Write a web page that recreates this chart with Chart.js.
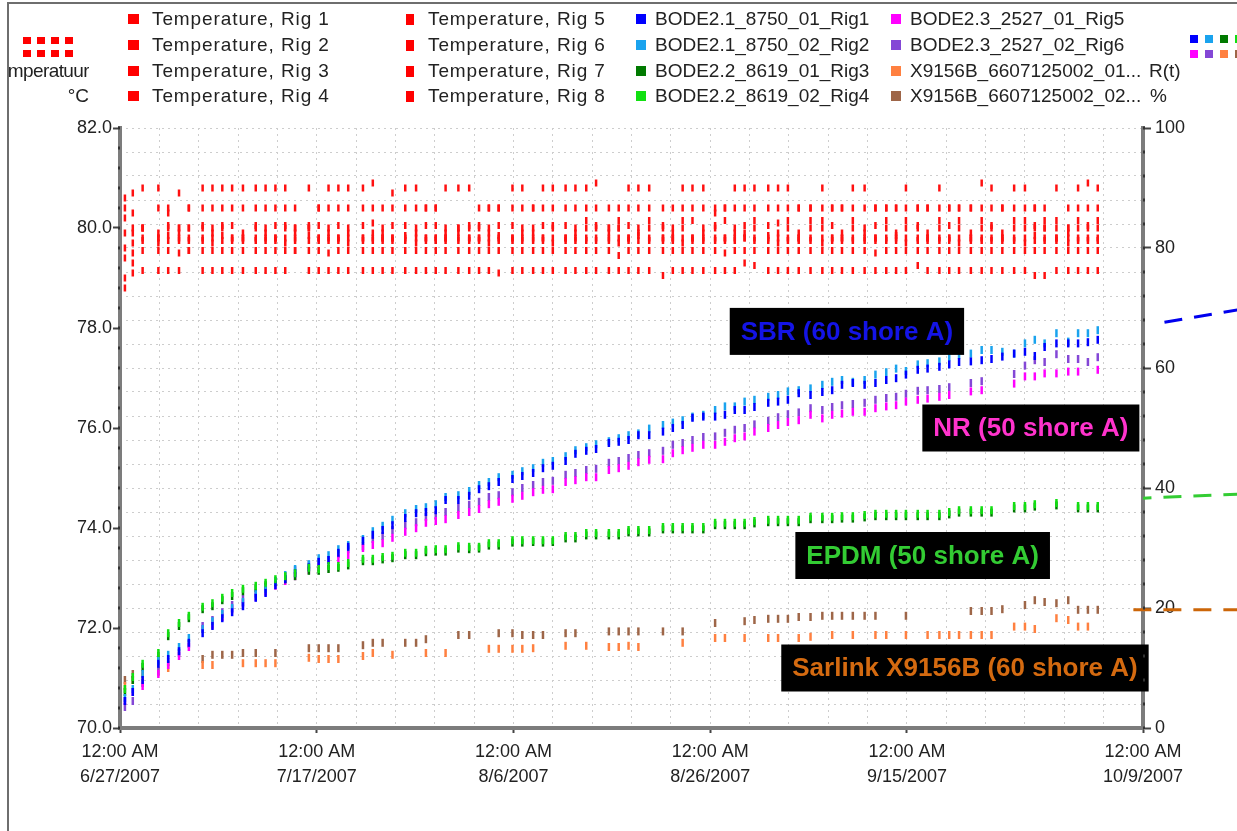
<!DOCTYPE html>
<html>
<head>
<meta charset="utf-8">
<script src="https://cdn.jsdelivr.net/npm/chart.js@4.4.1/dist/chart.umd.min.js"></script>
<style>
html, body { margin: 0; padding: 0; background: #fff; }
#wrap { position: relative; width: 1237px; height: 831px; overflow: hidden; font-family: "Liberation Sans", Arial, sans-serif; }
canvas { position: absolute; left: 0; top: 0; }
#frame { position: absolute; left: 7px; top: 2px; right: -10px; bottom: -10px; border-top: 2px solid #6e6e6e; border-left: 2px solid #6e6e6e; }
.lg { position: absolute; font-size: 19px; line-height: 22px; color: #222; white-space: nowrap; }
.sw { position: absolute; }
</style>
</head>
<body>
<div id="wrap">
  <canvas id="chart" width="1237" height="831"></canvas>
  <div id="frame"></div>
  <div id="legend"></div>
</div>
<script>
// sample times, days after 6/27/2007 00:00
const days = [0.5, 1.3,
  2.3, 3.9, 4.9, 6.0, 7.0, 8.4, 9.4, 10.4, 11.4, 12.5,
  13.8, 14.8, 15.8, 16.8, 17.8, 19.2, 20.2, 21.2, 22.2, 23.2,
  24.7, 25.7, 26.7, 27.7, 29.0, 30.1, 31.1, 32.1, 33.1, 34.4,
  35.5, 36.5, 37.5, 38.5, 39.9, 40.9, 42.0, 43.0, 44.0, 45.3,
  46.3, 47.4, 48.4, 49.7, 50.7, 51.7, 52.7, 53.8, 55.2, 56.2,
  57.2, 58.2, 59.3, 60.5, 61.5, 62.5, 63.5, 64.5, 65.9, 66.9,
  67.9, 69.0, 70.2, 71.4, 72.4, 73.4, 74.5, 75.7, 76.8, 77.9,
  78.9, 79.9, 81.1, 82.1, 83.3, 84.3, 85.3, 86.5, 87.6, 88.6,
  89.7, 90.9, 92.0, 93.0, 94.0, 95.2, 96.4, 97.4, 98.4, 99.4];

// temperature per rig, °C
const tempRig1 = [80.6, 80.7,
  80.8, 80.8, 80.4, 80.7, 80.4, 80.8, 80.8, 80.8, 80.8, 80.8,
  80.8, 80.8, 80.8, 80.8, 80.4, 80.8, 80.4, 80.8, 80.8, 80.8,
  80.8, 80.9, 80.4, 80.7, 80.8, 80.8, 80.4, 80.4, 80.8, 80.8,
  80.8, 80.4, 80.4, 80.4, 80.8, 80.8, 80.4, 80.8, 80.8, 80.8,
  80.8, 80.8, 80.9, 80.4, 80.4, 80.8, 80.8, 80.8, 80.4, 80.4,
  80.8, 80.8, 80.8, 80.4, 80.4, 80.8, 80.8, 80.8, 80.8, 80.8,
  80.8, 80.4, 80.4, 80.8, 80.4, 80.4, 80.8, 80.8, 80.4, 80.4,
  80.4, 80.8, 80.4, 80.4, 80.8, 80.4, 80.4, 80.4, 80.9, 80.8,
  80.4, 80.8, 80.8, 80.4, 80.4, 80.8, 80.4, 80.8, 80.9, 80.8];
const tempRig2 = [80.2, 80.3,
  80.0, 80.4, 80.3, 80.0, 80.4, 80.4, 80.4, 80.4, 80.4, 80.4,
  80.4, 80.4, 80.4, 80.4, 80.0, 80.0, 80.4, 80.4, 80.4, 80.4,
  80.4, 80.4, 79.8, 80.4, 80.4, 80.4, 80.4, 80.4, 80.0, 80.0,
  80.0, 80.0, 80.4, 80.4, 80.4, 80.4, 80.4, 80.4, 80.4, 80.4,
  80.4, 80.4, 80.4, 80.0, 80.0, 80.4, 80.4, 80.4, 79.8, 80.0,
  80.4, 80.4, 80.4, 80.3, 80.4, 80.4, 80.4, 80.4, 80.4, 80.4,
  80.4, 80.4, 80.4, 80.4, 80.4, 80.4, 80.4, 80.4, 80.4, 80.4,
  80.4, 80.4, 80.4, 80.4, 80.4, 80.4, 80.4, 80.4, 80.4, 80.4,
  80.4, 80.4, 80.4, 80.4, 80.0, 80.0, 80.0, 80.4, 80.4, 80.4];
const tempRig3 = [79.9, 80.0,
  80.0, 79.8, 80.0, 80.0, 80.0, 80.0, 80.0, 80.0, 79.8, 79.8,
  80.0, 80.0, 79.8, 80.0, 80.0, 80.0, 79.8, 80.0, 79.8, 80.0,
  79.8, 80.1, 80.0, 79.8, 79.8, 80.0, 79.8, 79.8, 79.8, 80.0,
  79.8, 79.8, 80.0, 79.8, 79.8, 80.0, 80.0, 79.8, 80.0, 79.8,
  80.0, 80.0, 80.0, 80.0, 80.0, 79.8, 80.0, 80.0, 80.0, 79.8,
  80.0, 79.8, 80.0, 80.0, 79.8, 80.0, 79.8, 80.0, 79.8, 80.1,
  80.0, 79.8, 80.0, 80.0, 79.8, 79.8, 80.0, 80.0, 79.8, 80.0,
  79.8, 80.0, 80.0, 79.8, 80.0, 79.8, 80.0, 79.8, 80.0, 80.0,
  79.8, 80.0, 80.0, 80.0, 80.0, 79.8, 80.0, 80.0, 80.0, 80.0];
const tempRig4 = [79.6, 79.7,
  79.8, 79.8, 79.85, 79.8, 79.8, 79.8, 79.8, 79.85, 79.8, 79.8,
  79.8, 79.8, 79.8, 79.8, 79.8, 79.85, 79.8, 79.8, 79.8, 79.8,
  79.8, 79.8, 79.8, 79.8, 79.85, 79.8, 79.8, 79.8, 79.8, 79.8,
  79.8, 79.8, 79.8, 79.85, 79.8, 79.8, 79.8, 79.8, 79.8, 79.8,
  79.8, 79.8, 79.8, 79.8, 79.8, 79.8, 79.85, 79.8, 79.8, 79.8,
  79.8, 79.8, 79.8, 79.8, 79.8, 79.8, 79.8, 79.8, 79.85, 79.8,
  79.8, 79.8, 79.8, 79.8, 79.8, 79.8, 79.8, 79.8, 79.8, 79.8,
  79.85, 79.8, 79.8, 79.8, 79.8, 79.8, 79.8, 79.8, 79.8, 79.8,
  79.8, 79.8, 79.8, 79.85, 79.8, 79.8, 79.8, 79.8, 79.8, 79.8];
const tempRig5 = [79.4, 79.5,
  79.75, 79.7, 79.75, 79.75, 79.75, 79.75, 79.7, 79.75, 79.75, 79.75,
  79.75, 79.75, 79.75, 79.7, 79.75, 79.75, 79.75, 79.75, 79.75, 79.7,
  79.75, 79.75, 79.75, 79.75, 79.75, 79.7, 79.75, 79.75, 79.75, 79.75,
  79.75, 79.75, 79.7, 79.75, 79.75, 79.75, 79.75, 79.75, 79.7, 79.75,
  79.75, 79.75, 79.75, 79.75, 79.7, 79.75, 79.75, 79.75, 79.75, 79.75,
  79.7, 79.75, 79.75, 79.75, 79.75, 79.75, 79.9, 79.75, 79.75, 79.7,
  79.75, 79.75, 79.75, 79.7, 79.75, 79.75, 79.75, 79.75, 79.75, 79.75,
  79.75, 79.7, 79.75, 79.75, 79.75, 79.75, 79.7, 79.75, 79.75, 79.75,
  79.75, 79.75, 79.7, 79.75, 79.75, 79.75, 79.7, 79.75, 79.75, 79.75];
const tempRig6 = [79.0, 79.3,
  79.55, 79.55, 79.55, 79.5, 79.55, 79.55, 79.55, 79.55, 79.55, 79.55,
  79.55, 79.55, 79.55, 79.55, 79.55, 79.55, 79.55, 79.5, 79.55, 79.55,
  79.55, 79.55, 79.55, 79.55, 79.55, 79.55, 79.55, 79.55, 79.55, 79.55,
  79.55, 79.55, 79.55, 79.55, 79.55, 79.55, 79.55, 79.55, 79.55, 79.55,
  79.55, 79.55, 79.55, 79.55, 79.45, 79.55, 79.55, 79.55, 79.55, 79.55,
  79.55, 79.55, 79.55, 79.55, 79.5, 79.55, 79.55, 79.55, 79.55, 79.55,
  79.55, 79.55, 79.55, 79.55, 79.55, 79.55, 79.55, 79.55, 79.5, 79.55,
  79.55, 79.55, 79.55, 79.55, 79.55, 79.55, 79.55, 79.55, 79.55, 79.55,
  79.55, 79.55, 79.55, 79.55, 79.55, 79.55, 79.55, 79.55, 79.55, 79.55];
const tempRig7 = [78.8, 79.1,
  79.15, 79.15, 79.15, 79.15, 79.55, 79.15, 79.15, 79.15, 79.15, 79.15,
  79.15, 79.15, 79.15, 79.15, 79.55, 79.15, 79.15, 79.15, 79.15, 79.15,
  79.15, 79.15, 79.15, 79.15, 79.15, 79.15, 79.15, 79.15, 79.15, 79.15,
  79.15, 79.15, 79.15, 79.1, 79.15, 79.15, 79.15, 79.15, 79.15, 79.15,
  79.15, 79.15, 79.15, 79.15, 79.15, 79.15, 79.15, 79.15, 79.05, 79.15,
  79.15, 79.15, 79.15, 79.15, 79.15, 79.15, 79.3, 79.25, 79.15, 79.15,
  79.15, 79.15, 79.15, 79.15, 79.15, 79.15, 79.15, 79.15, 79.15, 79.15,
  79.15, 79.15, 79.25, 79.15, 79.15, 79.15, 79.15, 79.15, 79.15, 79.15,
  79.15, 79.15, 79.15, 79.05, 79.05, 79.15, 79.15, 79.15, 79.15, 79.15];
const tempRig8 = [80.4, 79.9,
  80.0, 79.9, 80.05, 79.9, 80.0, 80.05, 79.9, 80.05, 80.05, 79.9,
  80.05, 79.9, 80.05, 80.05, 79.9, 80.05, 80.05, 79.9, 80.05, 79.9,
  80.05, 79.9, 79.9, 80.05, 80.05, 79.9, 80.05, 80.05, 79.9, 79.9,
  80.05, 80.05, 79.9, 80.05, 80.05, 79.9, 79.9, 80.05, 80.05, 80.05,
  79.9, 80.15, 80.05, 79.9, 80.15, 80.05, 79.9, 80.15, 80.05, 79.9,
  80.15, 80.15, 79.9, 80.05, 80.15, 79.9, 80.05, 80.15, 80.05, 79.9,
  80.15, 79.9, 80.15, 80.15, 80.05, 79.9, 80.15, 79.9, 80.05, 80.15,
  79.9, 80.15, 80.05, 79.9, 80.15, 80.05, 80.15, 79.9, 80.15, 80.05,
  79.9, 80.15, 80.15, 80.05, 80.15, 80.15, 79.9, 80.15, 80.05, 80.15];

// R(t) per sample, %
const rSbr1 = [4.5, 6,
  8, 10.7, 11.5, 12.8, 14.2, 15.8, 17, 18.3, 19.3, 20.3,
  21.7, 22.5, 23.8, 24.8, 25.8, 26.8, 27.7, 28, 29.2, 30.2,
  31.2, 32.2, 33, 33.8, 35, 35.8, 36, 36.3, 38, 38,
  38.7, 39.8, 40.3, 41, 41.5, 42, 42.5, 43.3, 43.7, 44.5,
  45.7, 46.2, 46.5, 47.5, 47.7, 48, 48.8, 48.8, 49.4, 50,
  50.5, 51.7, 51.9, 51.9, 52.2, 53, 53, 53.5, 54.2, 54.4,
  54.7, 55.8, 55.5, 56, 56.3, 57.2, 57.5, 57.2, 57.5, 58,
  58.3, 58.9, 59.7, 59.9, 60.2, 60.6, 61, 61.1, 61.3, 61.5,
  61.9, 62.4, 62.7, 62, 63.5, 64.1, 64.1, 64.1, 64.3, 64.7];
const rSbr2 = [5, 6.5,
  9, 11.2, 12.2, 13.5, 15, 16.5, 17.8, 19, 20, 21,
  22.3, 23.2, 24.5, 25.5, 26.5, 27.3, 28.3, 28.8, 29.8, 30.5,
  31.5, 32.8, 33.7, 34.7, 35.8, 36.5, 36.8, 37.3, 38.5, 38.8,
  39.5, 40.5, 41, 41.8, 42.2, 42.8, 43.3, 44.2, 44.5, 45.3,
  46.3, 46.8, 47.3, 47.8, 48.3, 48.8, 49.1, 49.9, 50.5, 50.9,
  51.3, 51.9, 52.2, 53, 53.6, 53.6, 54.4, 54.7, 55.2, 55.5,
  56.1, 56.3, 56.6, 57.2, 57.7, 58, 57.7, 58, 58.9, 59.3,
  59.9, 59.5, 60.6, 60.8, 61.1, 61.8, 62.2, 62.4, 63, 63,
  62.7, 62.4, 64.1, 64.7, 64.1, 65.8, 64.4, 65.8, 65.8, 66.3];
const rEpdm1 = [6, 8,
  10.2, 12, 15.3, 17, 18.3, 19.8, 20.3, 21.3, 22, 22.8,
  23.3, 23.8, 24.3, 24.8, 25.3, 26.2, 26.2, 26.5, 26.7, 27.1,
  27.8, 27.8, 28.1, 28.3, 28.8, 28.8, 29.3, 29.4, 29.4, 29.9,
  29.8, 29.9, 30.4, 30.4, 30.9, 30.9, 31, 30.9, 31, 31.6,
  31.6, 32.1, 32.1, 32.1, 32.1, 32.6, 32.6, 32.6, 33.1, 33.1,
  33.1, 33.1, 33.1, 33.8, 33.8, 33.8, 33.8, 34.1, 34.3, 34.3,
  34.3, 34.3, 34.8, 34.8, 34.8, 34.9, 34.9, 35.1, 35.3, 35.3,
  35.3, 35.3, 35.3, 35.3, 35.3, 35.6, 35.9, 35.9, 35.9, 35.9,
  null, 36.6, 36.6, 36.9, null, 37.1, null, 36.6, 36.6, 36.6];
const rEpdm2 = [6.5, 8.5,
  10.7, 12.5, 15.8, 17.5, 18.7, 20.2, 20.8, 21.7, 22.5, 23.2,
  23.7, 24.2, 24.8, 25.3, 25.8, 26.7, 26.5, 27, 27, 27.5,
  28.2, 28.2, 28.5, 28.7, 29.2, 29.2, 29.7, 29.8, 29.8, 30.3,
  30.2, 30.2, 30.8, 30.8, 31.3, 31.3, 31.3, 31.3, 31.3, 32,
  32, 32.5, 32.5, 32.5, 32.5, 33, 33, 33, 33.5, 33.5,
  33.5, 33.5, 33.5, 34.2, 34.2, 34.2, 34.2, 34.5, 34.7, 34.7,
  34.7, 34.7, 35.2, 35.2, 35.2, 35.3, 35.3, 35.5, 35.7, 35.7,
  35.7, 35.7, 35.7, 35.7, 35.7, 36, 36.3, 36.3, 36.3, 36.3,
  null, 37, 37, 37.3, null, 37.5, null, 37, 37, 37];
const rNr1 = [4.5, 6,
  7, 9, 10.5, 12, 13.5, 16.5, 17.2, 18.5, 19.8, 20.8,
  21.8, 22.7, 23.7, 24.5, 25.3, 26.3, 26.8, 27.2, 28.2, 28.8,
  30, 30.5, 30.8, 31.7, 32.7, 33.3, 34.2, 34.5, 34.8, 35.5,
  36, 36.5, 37.3, 37.7, 38.2, 38.7, 39.3, 39.7, 39.8, 41,
  41.3, 41.8, 41.8, 43, 43.3, 43.7, 44.3, 44.7, 44.8, 45.8,
  46.3, 46.7, 47.2, 47.2, 47.7, 48.3, 48.6, 49.4, 50, 50.5,
  51, 51.3, 52.2, 51.6, 52.2, 52.4, 52.7, 52.7, 53.3, 53.6,
  53.8, 54.4, 54.7, 54.9, 55.2, 55.5, null, 56.1, 56.3, null,
  null, 57.4, 58.6, 58.6, 59.1, 59.1, 59.4, 59.4, null, 59.7];
const rNr2 = [3.5, 4.5,
  7.5, 9.5, 11, 12.5, 14, 17, 18, 19.3, 20.5, 21.5,
  22.5, 23.5, 24.5, 25.3, 26.3, 27.2, 27.7, 28, 29, 29.8,
  30.3, 31.5, 32, 33, 33.8, 34.3, 35.2, 35.5, 36, 36.7,
  37.2, 37.7, 38.5, 38.8, 39.3, 40, 40.5, 41, 41.2, 42.2,
  42.5, 43, 43.2, 44.2, 44.5, 45, 45.5, 45.8, 46.2, 47.2,
  47.5, 48, 48.5, 48.6, 49.2, 49.7, 50, 50.6, 51.2, 51.8,
  52.3, 52.6, 53.3, 53, 53.5, 53.8, 54, 54.2, 54.7, 55,
  55.2, 55.7, 56.2, 56.3, 56.5, 56.8, null, 57.5, 57.8, null,
  null, 59, 60.4, 61.3, 61, 62.3, 61.5, 61.5, 61, 61.8];
const rSarlink1 = [7, 8,
  8.5, 9.3, 10, null, null, 10.5, 10.5, null, null, 10.8,
  10.8, 10.8, 10.8, null, null, 11.7, 11.5, 11.5, 11.5, null,
  12, 12.5, null, 12.2, null, null, 12.5, null, 12.5, null,
  null, null, 13.2, 13.2, 13.2, 13.2, 13.3, null, null, 13.7,
  null, 13.7, null, 13.5, 13.5, 13.7, 13.5, null, null, null,
  14.2, null, null, 15, 15, null, 15, null, 15, 15,
  null, 15, 15.2, null, 15.5, null, 15.5, null, 15.5, 15.5,
  null, 15.5, null, 15.5, 15.5, 15.5, 15.5, 15.5, 15.5, 15.5,
  null, 16.9, 16.9, 16.5, null, 18.3, 18, 16.9, 16.9, null];
const rSarlink2 = [8, 9,
  9, 10.5, null, null, null, 11.5, 12.2, 12.2, 12.2, 12.5,
  12.5, null, 12.5, null, null, 13.3, 13.3, 13.3, 13.3, null,
  13.8, 14.2, 14.2, null, 14.2, 14.2, 14.8, null, null, 15.5,
  15.5, null, null, 15.8, 15.8, 15.5, 15.5, 15.5, null, 15.8,
  15.8, null, null, 16.1, 16.1, 16.1, 16.1, null, 16.1, null,
  16.1, null, null, 17.5, null, null, 17.8, 18, 18.2, 18.2,
  18.2, 18.5, 18.5, 18.7, 18.7, 18.7, 18.7, 18.7, 18.7, null,
  null, 18.7, null, null, null, null, null, 19.5, 19.5, 19.5,
  19.8, null, 20.5, 21.3, 21, 20.8, 21.3, 19.7, 19.7, 19.7];

// dashed trend marks running past the right axis
const trendDays = [114, 105.7];
const trendDaysEpdm = [114, 104];
const trendDaysSarlink = [114, 102.5];
const sbrTrend = [69.8, 67.5];
const epdmTrend = [39.0, 38.3];
const sarlinkTrend = [19.7, 19.7];

const xTickDays = [0, 20, 40, 60, 80, 104];
const xTickLabels = [
  ['12:00 AM', '6/27/2007'], ['12:00 AM', '7/17/2007'], ['12:00 AM', '8/6/2007'],
  ['12:00 AM', '8/26/2007'], ['12:00 AM', '9/15/2007'], ['12:00 AM', '10/9/2007']
];

const tempLabels = ['Temperature, Rig 1', 'Temperature, Rig 2', 'Temperature, Rig 3', 'Temperature, Rig 4',
  'Temperature, Rig 5', 'Temperature, Rig 6', 'Temperature, Rig 7', 'Temperature, Rig 8'];
const rLabels = ['BODE2.1_8750_01_Rig1', 'BODE2.1_8750_02_Rig2', 'BODE2.2_8619_01_Rig3', 'BODE2.2_8619_02_Rig4',
  'BODE2.3_2527_01_Rig5', 'BODE2.3_2527_02_Rig6', 'X9156B_6607125002_01...', 'X9156B_6607125002_02...'];
const rColors = ['#0000ff', '#1aa3ee', '#007a00', '#11e011', '#ff00ff', '#8447d6', '#ff8040', '#9e6648'];
// lower order is drawn on top
const rOrder = [2, 3, 4, 1, 5, 6, 7, 8];

const materials = [
  { text: 'SBR (60 shore A)', color: '#1414e6', day: 73.9, pct: 66.1 },
  { text: 'NR (50 shore A)', color: '#ff33cc', day: 92.6, pct: 50 },
  { text: 'EPDM (50 shore A)', color: '#33cc33', day: 81.6, pct: 28.75 },
  { text: 'Sarlink X9156B (60 shore A)', color: '#d46a10', day: 85.9, pct: 10 }
];

const toPoints = vals => days.map((d, i) => ({ x: d, y: vals[i] })).filter(p => p.y !== null);

const temps = [tempRig1, tempRig2, tempRig3, tempRig4, tempRig5, tempRig6, tempRig7, tempRig8];
const rSeries = [rSbr1, rSbr2, rEpdm1, rEpdm2, rNr1, rNr2, rSarlink1, rSarlink2];

const datasets = [];
temps.forEach((t, i) => {
  datasets.push({
    label: tempLabels[i], data: toPoints(t), yAxisID: 'yT', order: 0,
    pointStyle: 'line', rotation: 90, pointRadius: 3.5, borderWidth: 2.5,
    borderColor: '#ff1010', backgroundColor: '#ff1010'
  });
});
rSeries.forEach((r, i) => {
  datasets.push({
    label: rLabels[i], data: toPoints(r), yAxisID: 'yR', order: rOrder[i],
    pointStyle: 'line', rotation: 90, pointRadius: 4, borderWidth: 2.5,
    borderColor: rColors[i], backgroundColor: rColors[i]
  });
});
const trendStyle = { type: 'line', yAxisID: 'yR', order: 0, pointRadius: 0, borderWidth: 3, borderDash: [18, 12], clip: false, fill: false };
datasets.push(Object.assign({ label: 'SBR trend', borderColor: '#0000ee',
  data: trendDays.map((d, i) => ({ x: d, y: sbrTrend[i] })) }, trendStyle));
datasets.push(Object.assign({ label: 'EPDM trend', borderColor: '#33cc33',
  data: trendDaysEpdm.map((d, i) => ({ x: d, y: epdmTrend[i] })) }, trendStyle));
datasets.push(Object.assign({ label: 'Sarlink trend', borderColor: '#cc6608',
  data: trendDaysSarlink.map((d, i) => ({ x: d, y: sarlinkTrend[i] })) }, trendStyle));

const materialBoxes = {
  id: 'materialBoxes',
  afterDatasetsDraw(chart) {
    const { ctx, scales } = chart;
    ctx.save();
    ctx.font = 'bold 26px "Liberation Sans", Arial, sans-serif';
    ctx.textAlign = 'center';
    ctx.textBaseline = 'middle';
    materials.forEach(m => {
      const x = scales.x.getPixelForValue(m.day);
      const y = scales.yR.getPixelForValue(m.pct);
      const w = ctx.measureText(m.text).width + 22;
      ctx.fillStyle = '#000';
      ctx.fillRect(x - w / 2, y - 23.5, w, 47);
      ctx.fillStyle = m.color;
      ctx.fillText(m.text, x, y + 1);
    });
    ctx.restore();
  }
};

// small dark dots sitting on the y axis lines at the minor steps
const axisDots = {
  id: 'axisDots',
  afterDraw(chart) {
    const { ctx, scales, chartArea } = chart;
    ctx.save();
    ctx.fillStyle = '#333';
    scales.yT.ticks.forEach(t => {
      const y = scales.yT.getPixelForValue(t.value);
      ctx.fillRect(chartArea.left - 2, y - 1.5, 2, 3);
    });
    scales.yR.ticks.forEach(t => {
      const y = scales.yR.getPixelForValue(t.value);
      ctx.fillRect(chartArea.right, y - 1.5, 2, 3);
    });
    ctx.restore();
  }
};

const tickFont = { family: '"Liberation Sans", Arial, sans-serif', size: 18, lineHeight: 1.4 };
const gridGray = '#cdcdcd';

new Chart(document.getElementById('chart'), {
  type: 'scatter',
  data: { datasets },
  options: {
    responsive: false,
    animation: false,
    layout: { padding: { top: 128, left: 0, right: 0, bottom: 0 } },
    plugins: { legend: { display: false }, tooltip: { enabled: false } },
    scales: {
      x: {
        type: 'linear', min: 0, max: 104,
        afterFit: s => { s.height = 103; },
        ticks: {
          stepSize: 4, autoSkip: false, maxRotation: 0, padding: 6, color: '#222', font: tickFont,
          callback: v => { const i = xTickDays.indexOf(v); return i < 0 ? '' : xTickLabels[i]; }
        },
        grid: {
          color: gridGray, lineWidth: 1, tickLength: 5, tickWidth: 2,
          tickColor: c => (c.tick && xTickDays.includes(c.tick.value)) ? '#444' : 'rgba(0,0,0,0)'
        },
        border: { color: '#7c7c7c', width: 4, dash: [2, 4] }
      },
      yT: {
        position: 'left', min: 70, max: 82,
        afterFit: s => { s.width = 120; },
        ticks: { stepSize: 0.4, autoSkip: false, padding: 1, color: '#222', font: tickFont,
          callback: v => (Math.abs(v / 2 - Math.round(v / 2)) < 1e-6 ? v.toFixed(1) : '') },
        grid: { drawOnChartArea: false, tickLength: 7, tickWidth: 2,
          tickColor: c => (c.tick && Math.abs(c.tick.value / 2 - Math.round(c.tick.value / 2)) < 1e-6) ? '#444' : 'rgba(0,0,0,0)' },
        border: { color: '#7c7c7c', width: 4 }
      },
      yR: {
        position: 'right', min: 0, max: 100,
        afterFit: s => { s.width = 94; },
        ticks: {
          stepSize: 4, autoSkip: false, padding: 4, color: '#222', font: tickFont,
          callback: v => (v % 20 === 0 ? String(v) : '')
        },
        grid: {
          color: gridGray, lineWidth: 1, tickLength: 8, tickWidth: 2,
          tickColor: c => (c.tick && c.tick.value % 20 === 0) ? '#444' : 'rgba(0,0,0,0)'
        },
        border: { color: '#7c7c7c', width: 4, dash: [2, 4] }
      }
    }
  },
  plugins: [materialBoxes, axisDots]
});

// legend block above the plot
const legend = document.getElementById('legend');
const rowMid = [19, 45, 71, 96];
function addText(txt, left, mid, extra) {
  const d = document.createElement('div');
  d.className = 'lg';
  d.textContent = txt;
  d.style.left = left + 'px';
  d.style.top = (mid - 11) + 'px';
  if (extra) Object.assign(d.style, extra);
  legend.appendChild(d);
  return d;
}
function addSwatch(color, left, top, w, h) {
  const s = document.createElement('div');
  s.className = 'sw';
  Object.assign(s.style, { left: left + 'px', top: top + 'px', width: w + 'px', height: h + 'px', background: color });
  legend.appendChild(s);
}
tempLabels.forEach((t, i) => {
  const col = i < 4 ? { sw: 128, tx: 152, w: 11, h: 10 } : { sw: 406, tx: 428, w: 8, h: 11 };
  const mid = rowMid[i % 4];
  addSwatch('#ff0000', col.sw, mid - col.h / 2, col.w, col.h);
  addText(t, col.tx, mid, { letterSpacing: '0.9px' });
});
rLabels.forEach((t, i) => {
  const col = i < 4 ? { sw: 636, tx: 655 } : { sw: 891, tx: 910 };
  const mid = rowMid[i % 4];
  addSwatch(rColors[i], col.sw, mid - 5, 10, 10);
  addText(t, col.tx, mid);
});
// left axis caption, clipped by the frame
const cap = document.createElement('div');
Object.assign(cap.style, { position: 'absolute', left: '9px', top: '60px', width: '80px', height: '24px', overflow: 'hidden' });
const capTxt = document.createElement('div');
capTxt.className = 'lg';
capTxt.textContent = 'Temperatuur';
Object.assign(capTxt.style, { right: '0px', top: '0px', letterSpacing: '-0.6px' });
cap.appendChild(capTxt);
legend.appendChild(cap);
addText('°C', 0, rowMid[3], { left: 'auto', right: (1237 - 89) + 'px' });
[27, 41, 55, 69].forEach(x => { addSwatch('#ff0000', x - 4, 37, 8, 7); addSwatch('#ff0000', x - 4, 50, 8, 7); });
addText('R(t)', 1149, rowMid[2]);
addText('%', 1150, rowMid[3]);
[1190, 1205, 1220, 1235].forEach((x, i) => {
  addSwatch(rColors[i], x, 35, 8, 8);
  addSwatch(rColors[i + 4], x, 50, 8, 8);
});
</script>
</body>
</html>
